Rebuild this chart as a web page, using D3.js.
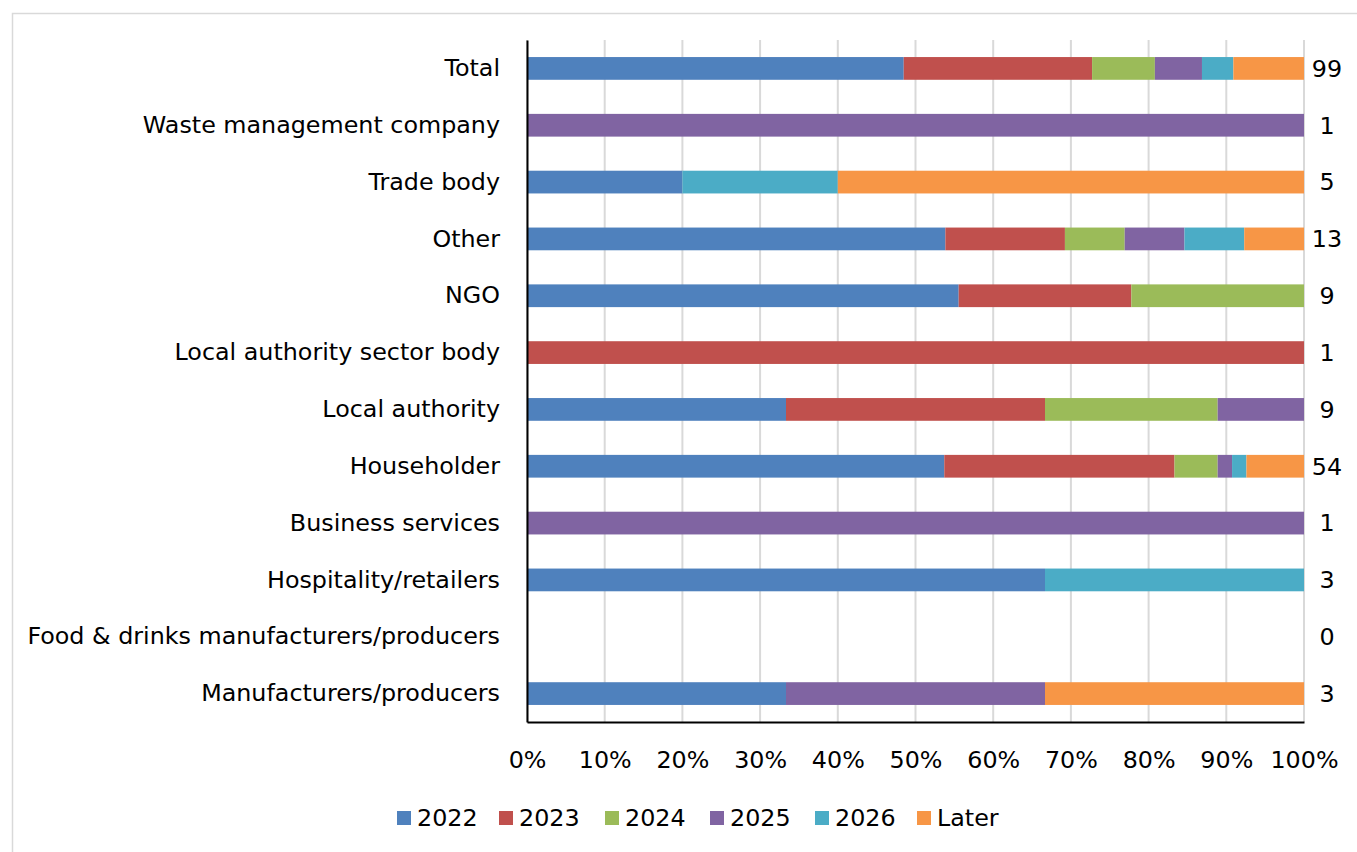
<!DOCTYPE html>
<html>
<head>
<meta charset="utf-8">
<script src="https://cdn.jsdelivr.net/npm/d3@7"></script>
<style>
  html, body { margin: 0; padding: 0; background: #fff; }
  svg { display: block; }
  text { font-family: "DejaVu Sans", Verdana, sans-serif; fill: #000; }
</style>
</head>
<body>
<svg id="chart" width="1357" height="852"></svg>
<script>
// Respondent groups, top to bottom
const categories = [
  "Total",
  "Waste management company",
  "Trade body",
  "Other",
  "NGO",
  "Local authority sector body",
  "Local authority",
  "Householder",
  "Business services",
  "Hospitality/retailers",
  "Food & drinks manufacturers/producers",
  "Manufacturers/producers"
];

const seriesNames = ["2022", "2023", "2024", "2025", "2026", "Later"];
const seriesColors = ["#4F81BD", "#C0504D", "#9BBB59", "#8064A2", "#4BACC6", "#F79646"];

// Number of responses per group for each year
const y2022  = [48, 0, 1, 7, 5, 0, 3, 29, 0, 2, 0, 1];
const y2023  = [24, 0, 0, 2, 2, 1, 3, 16, 0, 0, 0, 0];
const y2024  = [ 8, 0, 0, 1, 2, 0, 2,  3, 0, 0, 0, 0];
const y2025  = [ 6, 1, 0, 1, 0, 0, 1,  1, 1, 0, 0, 1];
const y2026  = [ 4, 0, 1, 1, 0, 0, 0,  1, 0, 1, 0, 0];
const yLater = [ 9, 0, 3, 1, 0, 0, 0,  4, 0, 0, 0, 1];

// Base sizes shown at the right of each bar
const totals = [99, 1, 5, 13, 9, 1, 9, 54, 1, 3, 0, 3];

const tickValues = [0, 0.1, 0.2, 0.3, 0.4, 0.5, 0.6, 0.7, 0.8, 0.9, 1.0];

const seriesValues = [y2022, y2023, y2024, y2025, y2026, yLater];

const rows = categories.map((c, i) => {
  const row = { category: c, n: totals[i] };
  seriesNames.forEach((s, k) => { row[s] = totals[i] > 0 ? seriesValues[k][i] / totals[i] : 0; });
  return row;
});

const FS = "23.8px";
const svg = d3.select("#chart");

// outer frame
svg.append("rect")
  .attr("x", 12.5).attr("y", 13.5)
  .attr("width", 1400).attr("height", 900)
  .attr("fill", "none").attr("stroke", "#d9d9d9").attr("stroke-width", 1.5);

const plot = { left: 527, right: 1304, top: 40, bottom: 722 };

const x = d3.scaleLinear().domain([0, 1]).range([plot.left, plot.right]);
const y = d3.scaleBand().domain(categories).range([plot.top, plot.bottom]).paddingInner(0.6).paddingOuter(0.3);

// vertical gridlines
svg.append("g")
  .selectAll("line")
  .data(tickValues)
  .join("line")
  .attr("x1", d => x(d)).attr("x2", d => x(d))
  .attr("y1", plot.top).attr("y2", plot.bottom)
  .attr("stroke", "#d9d9d9").attr("stroke-width", 2);

// stacked bars
const stack = d3.stack().keys(seriesNames)(rows);
const color = d3.scaleOrdinal().domain(seriesNames).range(seriesColors);

svg.append("g")
  .selectAll("g")
  .data(stack)
  .join("g")
  .attr("fill", d => color(d.key))
  .selectAll("rect")
  .data(d => d)
  .join("rect")
  .attr("x", d => x(d[0]))
  .attr("width", d => Math.max(0, x(d[1]) - x(d[0])))
  .attr("y", d => y(d.data.category))
  .attr("height", y.bandwidth());

// x axis
const xAxis = svg.append("g")
  .attr("transform", `translate(0,${plot.bottom})`)
  .call(d3.axisBottom(x).tickValues(tickValues).tickFormat(d3.format(".0%")).tickSize(0).tickPadding(29));
xAxis.select(".domain").attr("stroke", "#000").attr("stroke-width", 2);
xAxis.selectAll("text").style("font-size", FS).attr("fill", "#000");

// y axis
const yAxis = svg.append("g")
  .attr("transform", `translate(${plot.left},0)`)
  .call(d3.axisLeft(y).tickSize(0).tickPadding(27).tickSizeOuter(0));
yAxis.select(".domain").attr("stroke", "#000").attr("stroke-width", 2);
yAxis.selectAll("text").style("font-size", FS).attr("fill", "#000");

// base sizes on the right
svg.append("g")
  .selectAll("text")
  .data(rows)
  .join("text")
  .attr("x", 1327)
  .attr("y", d => y(d.category) + y.bandwidth() / 2)
  .attr("dy", "0.35em")
  .attr("text-anchor", "middle")
  .style("font-size", FS)
  .text(d => d.n);

// legend
const legendX = [397, 499, 605, 710, 815, 917];
const legend = svg.append("g")
  .selectAll("g")
  .data(seriesNames)
  .join("g")
  .attr("transform", (d, i) => `translate(${legendX[i]},818)`);
legend.append("rect")
  .attr("x", 0).attr("y", -7).attr("width", 14).attr("height", 14)
  .attr("fill", d => color(d));
legend.append("text")
  .attr("x", 20).attr("dy", "0.35em")
  .style("font-size", FS)
  .text(d => d);
</script>
</body>
</html>
